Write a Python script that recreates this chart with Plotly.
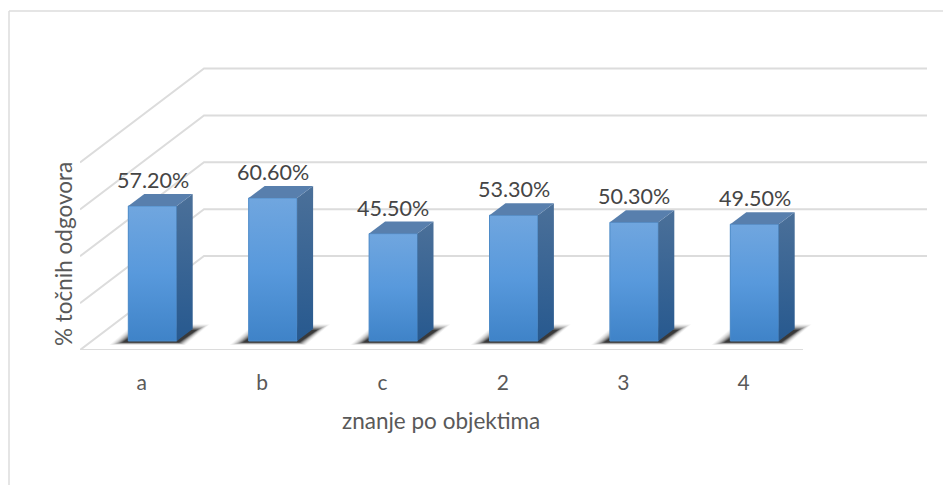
import plotly.graph_objects as go

categories = ["a", "b", "c", "2", "3", "4"]
values = [57.2, 60.6, 45.5, 53.3, 50.3, 49.5]
grid_values = [0, 20, 40, 60, 80]
x_title = "znanje po objektima"
y_title = "% točnih odgovora"

FONT = "Lato, Carlito, Calibri, sans-serif"
PAGE = 8                              # default page margin of the browser
W, H = 951 - PAGE, 485 - PAGE
L, R, T, B = 80 - PAGE, 0, 11 - PAGE, 135
PX_X = 120.4
PX_Y = 2.36
X0_PX, Y0_PX = 152.5 - PAGE, 341.0 - PAGE   # pixel of category 0 centre / value 0

xr = [(L - X0_PX) / PX_X, (W - R - X0_PX) / PX_X]
yr = [(Y0_PX - (H - B)) / PX_Y, (Y0_PX - T) / PX_Y]

dxu = lambda px: px / PX_X
dyu = lambda px: px / PX_Y

BAR_W = 0.402
GRID_COL = "#DCDCDC"
fig = go.Figure()

# grid floor and walls
floor_y = yr[0]
grid_scale = 0.993
wall_dx, wall_dy = dxu(124), dyu(94)
floor_len = dxu(723)
for g in grid_values:
    y = floor_y + g * grid_scale
    xs = [xr[0], xr[0] + wall_dx, xr[0] + wall_dx + floor_len]
    ys = [y, y + wall_dy, y + wall_dy]
    fig.add_trace(go.Scatter(x=xs, y=ys, mode="lines", cliponaxis=False,
                             line=dict(color=GRID_COL, width=2), hoverinfo="skip", showlegend=False))
fig.add_trace(go.Scatter(x=[xr[0], xr[0] + floor_len], y=[floor_y, floor_y], mode="lines",
                         cliponaxis=False, line=dict(color=GRID_COL, width=2),
                         hoverinfo="skip", showlegend=False))

# shadows on the floor
hw = BAR_W / 2
shadow_layers = [(1.0, 0.035), (0.9, 0.04), (0.8, 0.05), (0.7, 0.06), (0.6, 0.08), (0.5, 0.10),
                 (0.4, 0.13), (0.3, 0.17), (0.2, 0.22), (0.1, 0.28), (0.0, 0.34)]
for grow, alpha in shadow_layers:
    for i in range(len(values)):
        g = grow * 13
        xs = [i - hw - dxu(6 + g), i + hw + dxu(2 + g * 0.5), i + hw + dxu(20 + g), i - hw + dxu(12 - g * 0.5)]
        ys = [dyu(-1.5 - g * 0.2), dyu(-1.5 - g * 0.2), dyu(11 + g * 0.45), dyu(11 + g * 0.45)]
        fig.add_trace(go.Scatter(x=xs + xs[:1], y=ys + ys[:1], mode="lines", fill="toself",
                                 fillcolor=f"rgba(15,15,15,{alpha})", line=dict(width=0),
                                 hoverinfo="skip", showlegend=False))

# front face
fig.add_trace(go.Bar(x=list(range(len(values))), y=values, width=BAR_W,
                     marker=dict(color="#5796D6", line=dict(width=0)), showlegend=False))

bd_x, bd_y = dxu(16), dyu(12)
for i, v in enumerate(values):
    # gradient on the front
    fx = [i - hw, i + hw, i + hw, i - hw, i - hw]
    fy = [0, 0, v, v, 0]
    fig.add_trace(go.Scatter(x=fx, y=fy, mode="lines", fill="toself",
                             fillgradient=dict(type="vertical", colorscale=[[0, "#3F83C8"], [0.5, "#5899DC"], [1, "#70A6DF"]]),
                             line=dict(color="#4F8CC8", width=1), hoverinfo="skip", showlegend=False))
    # side
    sx = [i + hw, i + hw + bd_x, i + hw + bd_x, i + hw, i + hw]
    sy = [0, bd_y, v + bd_y, v, 0]
    fig.add_trace(go.Scatter(x=sx, y=sy, mode="lines", fill="toself",
                             fillgradient=dict(type="vertical", colorscale=[[0, "#27598F"], [1, "#4B7099"]]),
                             line=dict(width=0), hoverinfo="skip", showlegend=False))
    # top
    tx = [i - hw, i + hw, i + hw + bd_x, i - hw + bd_x, i - hw]
    ty = [v, v, v + bd_y, v + bd_y, v]
    fig.add_trace(go.Scatter(x=tx, y=ty, mode="lines", fill="toself", fillcolor="#587FAD",
                             line=dict(width=0), hoverinfo="skip", showlegend=False))
    fig.add_annotation(x=i, y=v, xref="x", yref="y", text=f"{v:.2f}%", showarrow=False, yshift=26,
                       font=dict(family=FONT, size=21.5, color="#454545"))

PW, PH = W - L - R, H - B - T
px = lambda p: (p - PAGE - L) / PW
py = lambda p: (H - B - (p - PAGE)) / PH

# chart border (top and left only visible)
fig.add_shape(type="line", xref="paper", yref="paper", x0=px(9), x1=1, y0=py(11), y1=py(11),
              line=dict(color=GRID_COL, width=1.5))
fig.add_shape(type="line", xref="paper", yref="paper", x0=px(9), x1=px(9), y0=py(485), y1=py(11),
              line=dict(color=GRID_COL, width=1.5))

# axis titles
fig.add_annotation(xref="paper", yref="paper", x=px(441), y=py(420), xanchor="center", yanchor="middle",
                   text=x_title, showarrow=False, font=dict(family=FONT, size=22.5, color="#595959"))
fig.add_annotation(xref="paper", yref="paper", x=px(63), y=py(254), xanchor="center", yanchor="middle",
                   text=y_title, textangle=-90, showarrow=False, font=dict(family=FONT, size=22.5, color="#595959"))

fig.update_layout(
    width=W, height=H, autosize=False, margin=dict(l=L, r=R, t=T, b=B),
    paper_bgcolor="white", plot_bgcolor="rgba(0,0,0,0)", showlegend=False,
    font=dict(family=FONT, color="#595959", size=18),
    xaxis=dict(range=xr, showgrid=False, zeroline=False, showline=False, ticks="",
               tickmode="array", tickvals=[i - 0.09 for i in range(len(categories))], ticktext=categories,
               tickfont=dict(family=FONT, size=21, color="#595959"), ticklabelstandoff=18),
    yaxis=dict(range=yr, showgrid=False, zeroline=False, showline=False, showticklabels=False, ticks=""),
)
fig.write_html("out.html")
